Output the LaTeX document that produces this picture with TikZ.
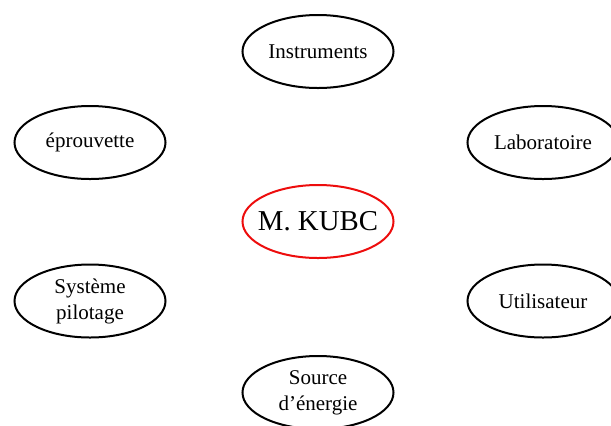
\documentclass[tikz,border=0pt]{standalone}
\usepackage{fontspec}
\setmainfont{Liberation Serif}
\usetikzlibrary{shapes.geometric}
\definecolor{figred}{rgb}{0.93,0.05,0.05}
\tikzset{
  bubble/.style={
    ellipse, draw=black, fill=white, line width=1pt,
    minimum width=75.5pt, minimum height=36.5pt, inner sep=1pt,
    align=center, font=\fontsize{10.5}{13}\selectfont
  },
  core/.style={
    bubble, draw=figred, inner xsep=-4pt, inner ysep=0pt,
    font=\fontsize{14.4}{17}\selectfont
  }
}
\begin{document}
\begin{tikzpicture}[x=0.5pt, y=-0.5pt]
  \useasboundingbox (0,0) rectangle (611,425);

  % centre
  \node[core] (kubc) at (318,221.5) {M. KUBC};

  % surrounding elements
  \node[bubble] (instr) at (318,51.5) {Instruments};
  \node[bubble] (eprouv) at (90,142.5) {éprouvette};
  \node[bubble] (labo) at (543,142.5) {Laboratoire};
  \node[bubble] (pilot) at (90,301) {Système\\pilotage};
  \node[bubble] (user) at (543,301) {Utilisateur};
  \node[bubble] (energy) at (318,392.5) {Source\\d’énergie};

\end{tikzpicture}
\end{document}
